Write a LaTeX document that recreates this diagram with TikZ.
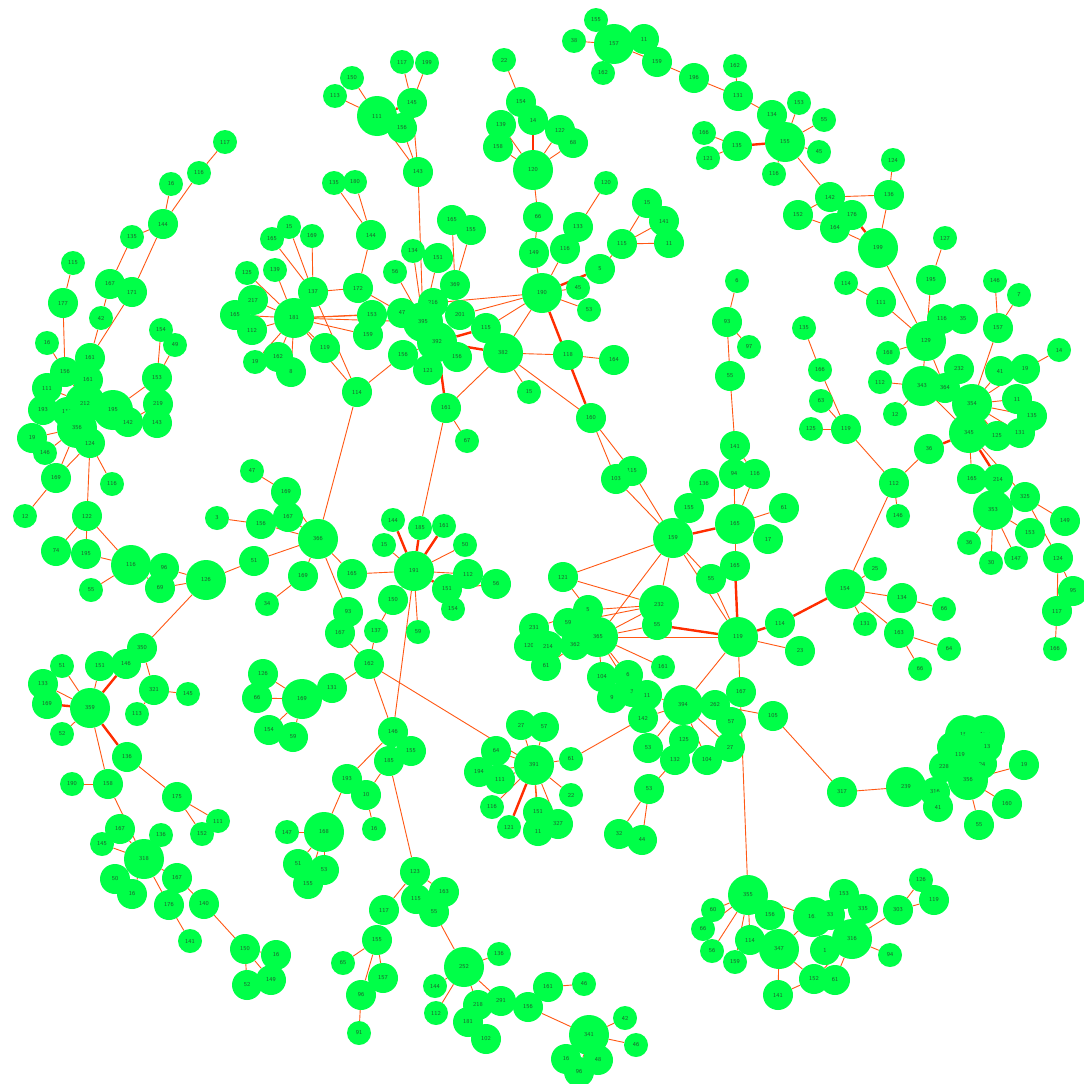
\documentclass[tikz,border=0pt]{standalone}
\usepackage{tikz}
\pgfdeclarelayer{bg}
\pgfsetlayers{bg,main}
\definecolor{ngreen}{RGB}{0,255,72}
\definecolor{ntext}{RGB}{30,95,45}
\definecolor{eorange}{RGB}{255,88,20}
\definecolor{ered}{RGB}{255,45,0}
\tikzset{
  nd/.style={circle,fill=ngreen,inner sep=0pt,text=ntext,font=\sffamily\fontsize{6}{6}\selectfont},
  ns/.style={minimum size=24pt},
  nm/.style={minimum size=30pt},
  nl/.style={minimum size=40pt},
  ed/.style={draw=eorange,line width=0.9pt},
  et/.style={draw=ered,line width=2.4pt}
}
\newcommand\Nd[5]{\node[nd,#1] (#2) at (#3,#4) {#5};}
\newcommand\Ed[2]{\draw[ed] (#1) -- (#2);}
\newcommand\Et[2]{\draw[et] (#1) -- (#2);}
\begin{document}
\begin{tikzpicture}[x=1pt,y=-1pt]
\useasboundingbox (0,0) rectangle (1084,1084);
\begin{pgfonlayer}{bg}
\fill[white] (0,0) rectangle (1084,1084);
\end{pgfonlayer}
% A
\Nd{ns}{a1}{225}{142}{117}
\Nd{ns}{a2}{199}{173}{116}
\Nd{ns}{a3}{171}{184}{16}
\Nd{nm}{a4}{163}{224}{144}
\Nd{ns}{a5}{132}{237}{135}
\Nd{nm}{a6}{110}{284}{167}
\Nd{nm}{a7}{132}{292}{171}
\Nd{ns}{a8}{73}{263}{115}
\Nd{nm}{a9}{63}{303}{177}
\Nd{ns}{a10}{101}{318}{42}
\Nd{ns}{a11}{161}{330}{154}
\Nd{ns}{a12}{175}{345}{49}
\Nd{ns}{a13}{47}{343}{16}
% B
\Nd{nm}{b1}{90}{358}{161}
\Nd{nm}{b2}{65}{372}{156}
\Nd{nm}{b3}{88}{380}{161}
\Nd{nm}{b4}{47}{388}{111}
\Nd{nl}{b5}{85}{403}{212}
\Nd{nm}{b6}{43}{410}{193}
\Nd{nm}{b7}{67}{412}{115}
\Nd{nl}{b8}{113}{410}{195}
\Nd{nm}{b9}{128}{422}{142}
\Nd{nm}{b10}{157}{378}{153}
\Nd{nm}{b11}{158}{404}{219}
\Nd{nm}{b12}{157}{423}{143}
\Nd{nl}{b13}{77}{428}{356}
\Nd{nm}{b14}{90}{443}{124}
\Nd{nm}{b15}{32}{438}{19}
\Nd{ns}{b16}{45}{453}{146}
\Nd{nm}{b17}{56}{478}{169}
\Nd{ns}{b18}{112}{484}{116}
\Nd{ns}{b19}{25}{516}{12}
\Nd{nm}{b20}{87}{516}{122}
\Nd{nm}{b21}{56}{551}{74}
\Nd{nm}{b22}{86}{554}{195}
\Nd{nl}{b23}{131}{565}{116}
\Nd{nm}{b24}{164}{568}{96}
\Nd{nm}{b25}{160}{588}{69}
\Nd{nl}{b26}{206}{580}{126}
\Nd{ns}{b27}{91}{590}{55}
\Nd{nm}{b28}{254}{561}{51}
% C
\Nd{nl}{c1}{318}{539}{366}
\Nd{ns}{c2}{252}{471}{47}
\Nd{nm}{c3}{286}{492}{169}
\Nd{nm}{c4}{288}{517}{167}
\Nd{nm}{c5}{261}{524}{156}
\Nd{ns}{c6}{217}{518}{3}
\Nd{nm}{c7}{303}{576}{169}
\Nd{ns}{c8}{267}{604}{34}
\Nd{nm}{c9}{352}{574}{165}
\Nd{nm}{c10}{348}{612}{93}
\Nd{nm}{c11}{340}{633}{167}
% D
\Nd{nm}{d1}{142}{648}{350}
\Nd{nm}{d2}{126}{664}{146}
\Nd{nm}{d3}{100}{666}{151}
\Nd{ns}{d4}{62}{666}{51}
\Nd{nm}{d5}{43}{684}{133}
\Nd{nm}{d6}{47}{704}{169}
\Nd{nl}{d7}{90}{708}{359}
\Nd{nm}{d8}{154}{690}{321}
\Nd{ns}{d9}{188}{694}{145}
\Nd{ns}{d10}{137}{714}{113}
\Nd{ns}{d11}{62}{734}{52}
\Nd{nm}{d12}{127}{757}{136}
\Nd{nm}{d13}{108}{784}{158}
\Nd{ns}{d14}{72}{784}{190}
\Nd{nm}{d15}{177}{797}{175}
\Nd{ns}{d16}{218}{821}{111}
\Nd{ns}{d17}{202}{834}{152}
\Nd{nm}{d18}{120}{829}{167}
\Nd{ns}{d19}{102}{844}{145}
\Nd{ns}{d20}{161}{835}{136}
\Nd{nl}{d21}{144}{859}{318}
\Nd{nm}{d22}{115}{879}{50}
\Nd{nm}{d23}{132}{894}{16}
\Nd{nm}{d24}{177}{878}{167}
\Nd{nm}{d25}{169}{905}{176}
\Nd{nm}{d26}{204}{904}{140}
\Nd{ns}{d27}{190}{941}{141}
\Nd{nm}{d28}{245}{949}{150}
\Nd{nm}{d29}{276}{955}{16}
\Nd{nm}{d30}{247}{985}{52}
\Nd{nm}{d31}{271}{980}{149}
% E
\Nd{nl}{e1}{302}{699}{169}
\Nd{nm}{e2}{263}{674}{126}
\Nd{nm}{e3}{257}{698}{66}
\Nd{nm}{e4}{332}{688}{131}
\Nd{nm}{e5}{269}{730}{154}
\Nd{nm}{e6}{293}{737}{59}
% F
\Nd{nm}{f1}{369}{664}{162}
\Nd{nm}{f2}{393}{732}{146}
\Nd{nm}{f3}{411}{751}{155}
\Nd{nm}{f4}{389}{761}{185}
\Nd{nm}{f5}{366}{795}{10}
\Nd{ns}{f6}{374}{829}{16}
\Nd{nm}{f7}{347}{779}{193}
\Nd{ns}{f8}{287}{832}{147}
\Nd{nl}{f9}{324}{832}{168}
\Nd{nm}{f10}{298}{864}{51}
\Nd{nm}{f11}{324}{870}{53}
\Nd{nm}{f12}{308}{884}{155}
\Nd{ns}{f13}{343}{963}{65}
\Nd{nm}{f14}{361}{995}{96}
\Nd{ns}{f15}{359}{1033}{91}
% G
\Nd{nl}{g1}{414}{571}{191}
\Nd{ns}{g2}{393}{520}{144}
\Nd{ns}{g3}{420}{528}{185}
\Nd{ns}{g4}{444}{526}{161}
\Nd{ns}{g5}{384}{545}{15}
\Nd{ns}{g6}{465}{545}{50}
\Nd{nm}{g7}{468}{574}{112}
\Nd{nm}{g8}{496}{584}{56}
\Nd{nm}{g9}{447}{589}{151}
\Nd{ns}{g10}{453}{609}{154}
\Nd{nm}{g11}{393}{600}{150}
\Nd{ns}{g12}{376}{631}{137}
\Nd{ns}{g13}{418}{632}{59}
% H
\Nd{nm}{h1}{415}{872}{123}
\Nd{nm}{h2}{416}{899}{115}
\Nd{nm}{h3}{444}{892}{163}
\Nd{nm}{h4}{434}{912}{55}
\Nd{nm}{h5}{384}{910}{117}
\Nd{nm}{h6}{377}{940}{155}
\Nd{nm}{h7}{383}{978}{157}
% I
\Nd{nl}{i1}{464}{967}{252}
\Nd{ns}{i2}{499}{954}{136}
\Nd{ns}{i3}{435}{986}{144}
\Nd{ns}{i4}{436}{1013}{112}
\Nd{nm}{i5}{478}{1005}{218}
\Nd{nm}{i6}{501}{1001}{291}
\Nd{nm}{i7}{468}{1022}{181}
\Nd{nm}{i8}{486}{1039}{102}
\Nd{nm}{i9}{528}{1007}{156}
\Nd{nm}{i10}{548}{987}{161}
\Nd{ns}{i11}{584}{984}{46}
\Nd{nl}{i12}{589}{1035}{341}
\Nd{ns}{i13}{625}{1018}{42}
\Nd{ns}{i14}{636}{1045}{46}
\Nd{nm}{i15}{566}{1059}{16}
\Nd{nm}{i16}{598}{1060}{48}
\Nd{nm}{i17}{579}{1072}{96}
% J
\Nd{nm}{j2}{521}{725}{27}
\Nd{nm}{j3}{544}{727}{57}
\Nd{nm}{j4}{496}{751}{64}
\Nd{nm}{j5}{479}{772}{194}
\Nd{nm}{j6}{500}{779}{111}
\Nd{ns}{j7}{571}{759}{61}
\Nd{ns}{j8}{571}{795}{22}
\Nd{ns}{j9}{492}{807}{116}
\Nd{nm}{j10}{538}{812}{151}
\Nd{nm}{j11}{558}{824}{327}
\Nd{ns}{j12}{509}{827}{121}
\Nd{nm}{j13}{538}{831}{11}
\Nd{nl}{j1}{534}{765}{391}
% K
\Nd{nm}{k2}{715}{705}{262}
\Nd{nm}{k3}{741}{692}{167}
\Nd{nm}{k4}{731}{722}{57}
\Nd{nm}{k5}{773}{716}{105}
\Nd{nm}{k6}{643}{718}{142}
\Nd{nm}{k7}{648}{748}{53}
\Nd{nm}{k8}{684}{740}{125}
\Nd{nm}{k9}{675}{760}{132}
\Nd{nm}{k10}{707}{760}{104}
\Nd{nm}{k11}{730}{747}{27}
\Nd{nm}{k12}{649}{789}{53}
\Nd{nm}{k13}{619}{834}{32}
\Nd{nm}{k14}{642}{840}{44}
\Nd{nl}{k1}{683}{705}{394}
% L
\Nd{nl}{l1}{738}{637}{119}
\Nd{nl}{l2}{659}{605}{232}
\Nd{nm}{l3}{657}{625}{55}
\Nd{nm}{l8}{534}{628}{231}
\Nd{nm}{l9}{529}{646}{120}
\Nd{nm}{l10}{548}{646}{214}
\Nd{nm}{l11}{546}{666}{61}
\Nd{nl}{l6}{598}{637}{365}
\Nd{nm}{l4}{588}{610}{5}
\Nd{nm}{l5}{568}{623}{59}
\Nd{nm}{l7}{575}{645}{362}
\Nd{nm}{l12}{563}{577}{121}
\Nd{ns}{l13}{663}{667}{161}
\Nd{nm}{l14}{602}{677}{104}
\Nd{nm}{l15}{628}{675}{6}
\Nd{nm}{l16}{612}{698}{9}
\Nd{nm}{l17}{632}{692}{3}
\Nd{nm}{l18}{647}{695}{11}
\Nd{nm}{l19}{780}{623}{114}
\Nd{nm}{l20}{800}{651}{23}
\Nd{nl}{l21}{845}{589}{154}
% M
\Nd{nl}{m1}{673}{538}{159}
\Nd{nm}{m2}{704}{484}{136}
\Nd{nm}{m3}{689}{508}{155}
\Nd{nl}{m4}{735}{524}{165}
\Nd{nm}{m5}{735}{446}{141}
\Nd{nm}{m6}{734}{474}{94}
\Nd{nm}{m7}{755}{474}{116}
\Nd{nm}{m8}{784}{508}{61}
\Nd{nm}{m9}{768}{539}{17}
\Nd{nm}{m10}{735}{566}{165}
\Nd{nm}{m11}{711}{579}{55}
\Nd{nm}{m12}{632}{471}{115}
\Nd{nm}{m13}{616}{479}{103}
\Nd{nm}{m14}{591}{418}{160}
\Nd{nm}{m15}{730}{376}{55}
% N
\Nd{ns}{n1}{875}{569}{25}
\Nd{nm}{n2}{902}{598}{134}
\Nd{ns}{n3}{944}{609}{66}
\Nd{ns}{n4}{865}{624}{131}
\Nd{nm}{n5}{899}{633}{163}
\Nd{ns}{n6}{949}{649}{64}
\Nd{ns}{n7}{920}{669}{66}
% O
\Nd{nm}{o1}{894}{483}{112}
\Nd{ns}{o2}{898}{516}{146}
\Nd{nm}{o3}{929}{449}{36}
\Nd{nm}{o4}{846}{429}{119}
\Nd{ns}{o5}{811}{429}{125}
\Nd{ns}{o6}{821}{401}{63}
\Nd{ns}{o7}{820}{370}{166}
\Nd{ns}{o17}{895}{414}{12}
\Nd{ns}{o20}{880}{382}{112}
\Nd{nm}{o12}{959}{369}{232}
\Nd{nm}{o13}{1000}{371}{41}
\Nd{nm}{o14}{1025}{369}{19}
\Nd{nl}{o10}{922}{386}{343}
\Nd{nm}{o11}{945}{388}{364}
\Nd{nm}{o15}{1017}{399}{11}
\Nd{nm}{o16}{1032}{416}{135}
\Nd{nl}{o8}{972}{404}{354}
\Nd{nm}{o18}{997}{436}{125}
\Nd{nm}{o19}{1020}{433}{131}
\Nd{nl}{o9}{969}{433}{345}
\Nd{nm}{o21}{972}{479}{165}
\Nd{nm}{o22}{998}{479}{214}
\Nd{nm}{o23}{1025}{497}{325}
\Nd{nl}{o24}{993}{510}{353}
\Nd{ns}{o25}{969}{543}{36}
\Nd{ns}{o26}{991}{563}{30}
\Nd{ns}{o27}{1016}{558}{147}
\Nd{nm}{o28}{1030}{533}{153}
\Nd{nm}{o29}{1065}{521}{149}
\Nd{nm}{o30}{1058}{558}{124}
\Nd{nm}{o31}{1073}{591}{95}
\Nd{nm}{o32}{1057}{611}{117}
\Nd{ns}{o33}{1055}{649}{166}
% P
\Nd{ns}{p1}{596}{20}{155}
\Nd{ns}{p2}{574}{41}{38}
\Nd{nl}{p3}{614}{44}{157}
\Nd{nm}{p4}{644}{39}{11}
\Nd{nm}{p5}{657}{62}{159}
\Nd{ns}{p6}{603}{73}{162}
\Nd{nm}{p7}{694}{78}{196}
\Nd{ns}{p8}{735}{66}{162}
\Nd{nm}{p9}{738}{96}{131}
\Nd{nm}{p10}{772}{115}{134}
\Nd{ns}{p11}{799}{103}{153}
\Nd{ns}{p12}{824}{120}{55}
\Nd{nl}{p13}{785}{142}{155}
\Nd{ns}{p14}{819}{152}{45}
\Nd{nm}{p15}{737}{146}{135}
\Nd{ns}{p16}{774}{174}{116}
\Nd{ns}{p17}{704}{133}{166}
\Nd{ns}{p18}{708}{158}{121}
\Nd{nm}{p19}{830}{197}{142}
\Nd{nm}{p20}{798}{215}{152}
\Nd{nm}{p23}{889}{195}{136}
\Nd{ns}{p24}{893}{160}{124}
\Nd{nm}{p22}{835}{228}{164}
\Nd{nm}{p21}{852}{215}{176}
\Nd{nl}{p25}{878}{248}{199}
\Nd{ns}{p26}{945}{238}{127}
\Nd{nm}{p27}{931}{280}{195}
\Nd{ns}{p28}{846}{283}{114}
\Nd{nm}{p29}{881}{302}{111}
\Nd{ns}{p30}{737}{281}{6}
\Nd{nm}{p31}{727}{322}{93}
\Nd{ns}{p32}{749}{347}{97}
\Nd{ns}{p33}{804}{328}{135}
% Q
\Nd{nl}{q1}{926}{341}{129}
\Nd{nm}{q2}{942}{319}{116}
\Nd{nm}{q3}{963}{319}{35}
\Nd{ns}{q4}{888}{353}{168}
\Nd{ns}{q5}{995}{281}{146}
\Nd{ns}{q6}{1019}{295}{7}
\Nd{nm}{q7}{998}{328}{157}
\Nd{ns}{q8}{1059}{350}{14}
% R
\Nd{nl}{r1}{542}{293}{190}
\Nd{nm}{r2}{534}{253}{149}
\Nd{nm}{r3}{538}{217}{66}
\Nd{nl}{r4}{533}{170}{120}
\Nd{ns}{r5}{504}{60}{22}
\Nd{nm}{r6}{521}{102}{154}
\Nd{nm}{r7}{533}{120}{14}
\Nd{nm}{r8}{501}{125}{139}
\Nd{nm}{r9}{498}{147}{158}
\Nd{nm}{r10}{560}{130}{122}
\Nd{nm}{r11}{573}{143}{68}
\Nd{ns}{r12}{606}{183}{120}
\Nd{nm}{r13}{578}{227}{133}
\Nd{nm}{r14}{565}{249}{116}
\Nd{nm}{r15}{600}{269}{5}
\Nd{ns}{r16}{578}{288}{45}
\Nd{ns}{r17}{589}{310}{53}
\Nd{nm}{r18}{647}{203}{15}
\Nd{nm}{r19}{664}{221}{141}
\Nd{nm}{r20}{622}{244}{115}
\Nd{nm}{r21}{669}{243}{11}
\Nd{nm}{r22}{568}{355}{118}
\Nd{nm}{r23}{614}{360}{164}
\Nd{nm}{r25}{486}{328}{115}
\Nd{nl}{r24}{503}{353}{382}
\Nd{ns}{r26}{529}{392}{15}
% S
\Nd{ns}{s27}{402}{62}{117}
\Nd{ns}{s28}{427}{63}{199}
\Nd{nm}{s24}{412}{103}{145}
\Nd{nl}{s25}{377}{116}{111}
\Nd{nm}{s26}{402}{128}{156}
\Nd{nm}{s23}{418}{172}{143}
\Nd{nm}{s13}{452}{220}{165}
\Nd{nm}{s14}{471}{230}{155}
\Nd{nm}{s15}{371}{235}{144}
\Nd{ns}{s11}{413}{251}{134}
\Nd{nm}{s12}{438}{258}{151}
\Nd{ns}{s10}{395}{272}{56}
\Nd{nm}{s9}{358}{288}{172}
\Nd{nm}{s7}{372}{315}{153}
\Nd{nm}{s8}{368}{335}{159}
\Nd{nm}{s6}{402}{313}{47}
\Nd{nm}{s3}{455}{285}{369}
\Nd{nm}{s4}{433}{303}{216}
\Nd{nm}{s5}{460}{315}{201}
\Nd{nm}{s17}{403}{355}{156}
\Nd{nm}{s18}{428}{370}{121}
\Nd{nm}{s19}{457}{357}{156}
\Nd{nl}{s1}{423}{322}{395}
\Nd{nl}{s2}{437}{342}{392}
\Nd{nm}{s20}{446}{408}{161}
\Nd{nm}{s21}{357}{392}{114}
\Nd{ns}{s22}{467}{441}{67}
% T
\Nd{ns}{t3}{289}{227}{15}
\Nd{ns}{t4}{272}{239}{165}
\Nd{ns}{t5}{312}{236}{169}
\Nd{ns}{t6}{247}{273}{125}
\Nd{ns}{t7}{275}{270}{139}
\Nd{nm}{t8}{253}{300}{217}
\Nd{nm}{t9}{235}{315}{165}
\Nd{nm}{t10}{252}{330}{112}
\Nd{ns}{t11}{255}{362}{19}
\Nd{nm}{t12}{278}{357}{162}
\Nd{nm}{t13}{291}{372}{8}
\Nd{nm}{t14}{325}{348}{119}
\Nd{nm}{t2}{313}{292}{137}
\Nd{nl}{t1}{294}{318}{181}
\Nd{ns}{t15}{334}{183}{135}
\Nd{ns}{t16}{355}{182}{180}
\Nd{ns}{t17}{352}{78}{150}
\Nd{ns}{t18}{335}{96}{113}
% U
\Nd{ns}{u19}{713}{910}{60}
\Nd{ns}{u20}{703}{929}{66}
\Nd{ns}{u21}{712}{951}{56}
\Nd{nl}{u1}{748}{895}{355}
\Nd{nm}{u2}{770}{915}{156}
\Nd{nm}{u4}{844}{894}{153}
\Nd{nm}{u6}{863}{909}{335}
\Nd{nl}{u3}{813}{917}{162}
\Nd{nm}{u5}{830}{915}{33}
\Nd{nm}{u7}{898}{910}{303}
\Nd{ns}{u8}{921}{880}{126}
\Nd{nm}{u9}{934}{900}{119}
\Nd{nl}{u10}{852}{939}{316}
\Nd{nm}{u11}{825}{950}{1}
\Nd{nm}{u13}{750}{940}{114}
\Nd{ns}{u14}{735}{962}{159}
\Nd{nl}{u12}{779}{949}{347}
\Nd{nm}{u15}{814}{979}{152}
\Nd{nm}{u16}{835}{980}{61}
\Nd{nm}{u17}{778}{995}{141}
\Nd{ns}{u18}{890}{955}{94}
% V
\Nd{nl}{v1}{965}{735}{151}
\Nd{nl}{v2}{985}{735}{157}
\Nd{nm}{v3}{952}{747}{35}
\Nd{nm}{v4}{987}{747}{13}
\Nd{nl}{v5}{960}{755}{119}
\Nd{nm}{v6}{982}{764}{24}
\Nd{nm}{v7}{944}{767}{228}
\Nd{nl}{v8}{968}{780}{356}
\Nd{nm}{v9}{1024}{765}{19}
\Nd{nm}{v11}{935}{792}{316}
\Nd{nm}{v12}{938}{807}{41}
\Nd{nl}{v10}{906}{787}{239}
\Nd{nm}{v13}{1007}{804}{160}
\Nd{nm}{v14}{979}{825}{55}
\Nd{nm}{v15}{842}{792}{317}
\begin{pgfonlayer}{bg}
% A
\Ed{a1}{a2}\Ed{a2}{a4}\Ed{a3}{a4}\Ed{a4}{a5}\Ed{a5}{a6}\Ed{a4}{a7}
\Ed{a8}{a9}\Ed{a9}{b2}\Ed{a6}{a10}\Ed{a10}{b1}\Ed{a7}{b1}
\Ed{a11}{b10}\Ed{a12}{b10}\Ed{a13}{b2}
% B
\Ed{b1}{b3}\Ed{b2}{b5}\Ed{b3}{b5}\Ed{b4}{b5}\Ed{b6}{b5}\Ed{b7}{b5}
\Ed{b5}{b8}\Ed{b8}{b9}\Ed{b10}{b8}\Ed{b10}{b11}\Ed{b11}{b9}\Ed{b12}{b9}
\Ed{b13}{b5}\Ed{b15}{b13}\Ed{b16}{b13}\Ed{b17}{b13}\Ed{b17}{b14}\Ed{b14}{b13}
\Ed{b14}{b18}\Ed{b17}{b19}\Ed{b14}{b20}\Ed{b20}{b21}\Ed{b20}{b22}\Ed{b20}{b23}
\Ed{b22}{b23}\Ed{b21}{b22}\Ed{b23}{b24}\Ed{b23}{b25}\Ed{b24}{b26}\Ed{b25}{b26}
\Ed{b23}{b27}\Ed{b26}{b28}\Ed{b28}{c1}\Ed{b26}{d1}
% C
\Ed{c2}{c3}\Ed{c3}{c1}\Ed{c4}{c1}\Ed{c5}{c1}\Ed{c6}{c5}\Ed{c7}{c1}\Ed{c8}{c7}
\Ed{c9}{c1}\Ed{c10}{c1}\Ed{c11}{c10}\Ed{c11}{f1}\Ed{c1}{s21}\Ed{c9}{g1}
% D
\Ed{d1}{d2}\Ed{d1}{d8}\Et{d2}{d7}\Ed{d3}{d7}\Ed{d4}{d7}\Ed{d5}{d7}\Et{d6}{d7}
\Ed{d7}{d11}\Et{d7}{d12}\Ed{d7}{d13}\Ed{d13}{d14}\Ed{d12}{d15}\Ed{d15}{d16}
\Ed{d15}{d17}\Ed{d13}{d21}\Ed{d18}{d21}\Ed{d19}{d21}\Ed{d20}{d21}\Ed{d22}{d21}
\Ed{d23}{d21}\Ed{d24}{d21}\Ed{d25}{d21}\Ed{d24}{d26}\Ed{d25}{d27}\Ed{d26}{d28}
\Ed{d28}{d29}\Ed{d28}{d30}\Ed{d28}{d31}\Ed{d8}{d9}\Ed{d8}{d10}
% E
\Ed{e2}{e1}\Ed{e3}{e1}\Ed{e4}{e1}\Ed{e5}{e1}\Ed{e6}{e1}\Ed{e4}{f1}
% F
\Ed{f1}{f2}\Ed{f2}{f3}\Ed{f2}{f4}\Ed{f2}{f7}\Ed{f4}{f5}\Ed{f5}{f6}\Ed{f7}{f9}
\Ed{f8}{f9}\Ed{f9}{f10}\Ed{f9}{f11}\Ed{f9}{f12}\Ed{f4}{h1}\Ed{f1}{j1}\Ed{f1}{g12}\Ed{g1}{f2}
% G
\Et{g2}{g1}\Et{g3}{g1}\Et{g4}{g1}\Ed{g5}{g1}\Ed{g6}{g1}\Ed{g7}{g1}\Ed{g9}{g8}
\Et{g9}{g1}\Ed{g10}{g9}\Ed{g11}{g1}\Ed{g12}{g11}\Ed{g13}{g1}\Ed{s20}{g3}
% H
\Ed{h1}{h2}\Ed{h1}{h3}\Ed{h1}{h4}\Ed{h1}{h5}\Ed{h5}{h6}\Ed{h6}{f13}\Ed{h6}{f14}
\Ed{h6}{h7}\Ed{f14}{f15}\Ed{h4}{i1}
% I
\Ed{i1}{i2}\Ed{i1}{i3}\Ed{i1}{i4}\Ed{i1}{i5}\Ed{i1}{i6}\Ed{i5}{i7}\Ed{i5}{i8}
\Ed{i6}{i9}\Ed{i9}{i10}\Ed{i10}{i11}\Ed{i9}{i12}\Ed{i12}{i13}\Ed{i12}{i14}
\Ed{i12}{i15}\Ed{i12}{i16}\Ed{i12}{i17}
% J
\Ed{j2}{j1}\Ed{j3}{j1}\Ed{j4}{j1}\Ed{j5}{j1}\Ed{j6}{j1}\Ed{j7}{j1}\Ed{j8}{j1}
\Ed{j9}{j1}\Ed{j10}{j1}\Ed{j11}{j1}\Ed{j13}{j1}\Et{j12}{j1}\Ed{j4}{j5}\Ed{j7}{k6}
% K
\Ed{k2}{k1}\Ed{k6}{k1}\Ed{k7}{k1}\Ed{k8}{k1}\Ed{k9}{k1}\Ed{k10}{k1}\Ed{k11}{k1}
\Ed{k4}{k2}\Ed{k3}{k2}\Ed{k2}{k5}\Ed{k12}{k9}\Ed{k13}{k12}\Ed{k14}{k12}
\Ed{k1}{l1}\Ed{k5}{v15}\Ed{l18}{k1}
% L
\Ed{l12}{m1}\Ed{l12}{l2}\Ed{l12}{l4}\Ed{l2}{l6}\Ed{l2}{l4}\Ed{l2}{l5}\Ed{l3}{l6}
\Et{l3}{l1}\Ed{l6}{l1}\Ed{l13}{l6}\Ed{l14}{l6}\Ed{l15}{l6}\Ed{l17}{l6}
\Et{l1}{l19}\Ed{l1}{l20}\Et{l19}{l21}\Ed{m1}{l1}\Ed{m1}{l6}\Ed{m1}{l2}
\Ed{l8}{l4}\Ed{l5}{l6}\Ed{l16}{l14}\Ed{l9}{l6}\Ed{l10}{l7}\Ed{l11}{l7}
% M
\Ed{m2}{m1}\Ed{m3}{m1}\Et{m4}{m1}\Ed{m5}{m6}\Ed{m5}{m7}\Ed{m6}{m4}\Ed{m7}{m4}
\Ed{m8}{m4}\Ed{m9}{m4}\Ed{m10}{m4}\Et{m10}{l1}\Ed{m11}{l1}\Ed{m11}{m1}
\Ed{m14}{m12}\Ed{m14}{m13}\Ed{m12}{m1}\Ed{m13}{m1}\Ed{m15}{m5}\Ed{m15}{p31}
% N
\Ed{l21}{n1}\Ed{l21}{n2}\Ed{n2}{n3}\Ed{l21}{n4}\Ed{l21}{n5}\Ed{n5}{n6}\Ed{n5}{n7}\Ed{l21}{o1}
% O
\Ed{o1}{o2}\Ed{o1}{o3}\Ed{o1}{o4}\Ed{o4}{o5}\Ed{o4}{o7}\Ed{o6}{o4}\Et{o3}{o9}
\Ed{o9}{o8}\Ed{o10}{o9}\Ed{o10}{o20}\Ed{o10}{o17}\Ed{o12}{o10}\Ed{o11}{o8}
\Ed{o8}{o13}\Ed{o8}{o14}\Ed{o8}{o15}\Ed{o8}{o16}\Ed{o8}{o18}\Ed{o8}{o19}
\Et{o9}{o18}\Ed{o9}{o21}\Et{o9}{o22}\Ed{o9}{o23}\Ed{o22}{o24}\Ed{o24}{o25}
\Ed{o24}{o26}\Ed{o24}{o27}\Ed{o24}{o28}\Ed{o23}{o29}\Ed{o23}{o30}\Ed{o30}{o31}
\Ed{o30}{o32}\Ed{o32}{o33}\Ed{q1}{o10}\Ed{q1}{o11}
% P
\Ed{p1}{p3}\Ed{p2}{p3}\Ed{p6}{p3}\Ed{p3}{p5}\Ed{p4}{p5}\Ed{p5}{p7}\Ed{p7}{p9}
\Ed{p8}{p9}\Ed{p9}{p10}\Ed{p10}{p13}\Ed{p11}{p13}\Ed{p12}{p13}\Ed{p14}{p13}
\Ed{p16}{p13}\Et{p15}{p13}\Ed{p17}{p15}\Ed{p18}{p15}\Ed{p13}{p19}\Ed{p19}{p20}
\Ed{p19}{p23}\Et{p21}{p25}\Ed{p22}{p25}\Ed{p20}{p22}\Ed{p24}{p23}\Ed{p23}{p25}
\Ed{p25}{q1}\Ed{p26}{p27}\Ed{p27}{q1}\Ed{p28}{p29}\Ed{p29}{q1}\Ed{p30}{p31}
\Ed{p32}{p31}\Ed{p33}{o7}
% Q
\Ed{q2}{q1}\Ed{q3}{q1}\Ed{q4}{q1}\Ed{q5}{q7}\Ed{q6}{q7}\Ed{q7}{o8}\Ed{q8}{o14}
% R
\Ed{r5}{r6}\Ed{r6}{r7}\Et{r7}{r4}\Ed{r8}{r4}\Ed{r9}{r4}\Ed{r10}{r4}\Ed{r11}{r4}
\Ed{r4}{r3}\Ed{r3}{r2}\Ed{r2}{r1}\Ed{r12}{r13}\Ed{r13}{r14}\Ed{r14}{r1}
\Ed{r15}{r20}\Et{r15}{r1}\Ed{r16}{r1}\Ed{r17}{r1}\Ed{r18}{r20}\Ed{r19}{r20}
\Ed{r21}{r20}\Ed{r1}{r24}\Ed{r1}{r25}\Et{r1}{m14}\Ed{r22}{r23}\Ed{r24}{r22}
\Ed{r24}{m14}\Ed{r24}{r26}\Ed{r24}{s20}\Ed{r1}{s4}\Ed{r1}{s5}
% S
\Ed{s27}{s24}\Ed{s28}{s24}\Ed{s24}{s23}\Ed{s26}{s23}\Ed{s25}{s23}\Et{s25}{s24}
\Ed{s23}{s1}\Ed{s13}{s3}\Ed{s14}{s3}\Ed{s11}{s1}\Ed{s12}{s1}\Ed{s10}{s1}
\Ed{s15}{s9}\Ed{t15}{s15}\Ed{t16}{s15}\Ed{s9}{t2}\Ed{s7}{t1}\Ed{s8}{t1}
\Ed{s6}{t1}\Ed{s1}{t1}\Et{r25}{s2}\Et{r24}{s2}\Ed{s17}{s21}\Ed{s21}{t1}
\Ed{s21}{t2}\Et{s2}{s20}\Ed{s20}{s22}\Ed{s18}{s2}\Ed{s19}{s2}\Ed{s9}{s6}
\Ed{s17}{s2}\Ed{s3}{s1}\Ed{s4}{s1}\Ed{s5}{s2}
\Ed{t17}{s25}\Ed{t18}{s25}
% T
\Ed{t3}{t2}\Ed{t4}{t2}\Ed{t5}{t2}\Ed{t6}{t1}\Ed{t7}{t1}\Ed{t8}{t1}\Ed{t9}{t1}
\Ed{t10}{t1}\Ed{t11}{t1}\Ed{t12}{t1}\Ed{t13}{t1}\Ed{t14}{t1}\Ed{t2}{t1}
% U
\Ed{u1}{l1}\Ed{u1}{u2}\Ed{u1}{u3}\Ed{u1}{u13}\Ed{u1}{u14}\Ed{u1}{u19}
\Ed{u1}{u20}\Ed{u1}{u21}\Ed{u2}{u12}\Ed{u3}{u12}\Ed{u3}{u4}\Et{u5}{u10}
\Ed{u10}{u6}\Ed{u10}{u7}\Ed{u7}{u8}\Ed{u7}{u9}\Ed{u10}{u11}\Ed{u10}{u16}
\Ed{u10}{u18}\Ed{u10}{u15}\Ed{u12}{u15}\Ed{u12}{u17}\Ed{u15}{u17}
% V
\Ed{v15}{v10}\Ed{v10}{v11}\Ed{v11}{v8}\Ed{v8}{v9}\Ed{v8}{v13}\Ed{v8}{v14}
\Ed{v12}{v11}\Ed{v7}{v8}\Ed{v5}{v8}
\end{pgfonlayer}
\end{tikzpicture}
\end{document}
